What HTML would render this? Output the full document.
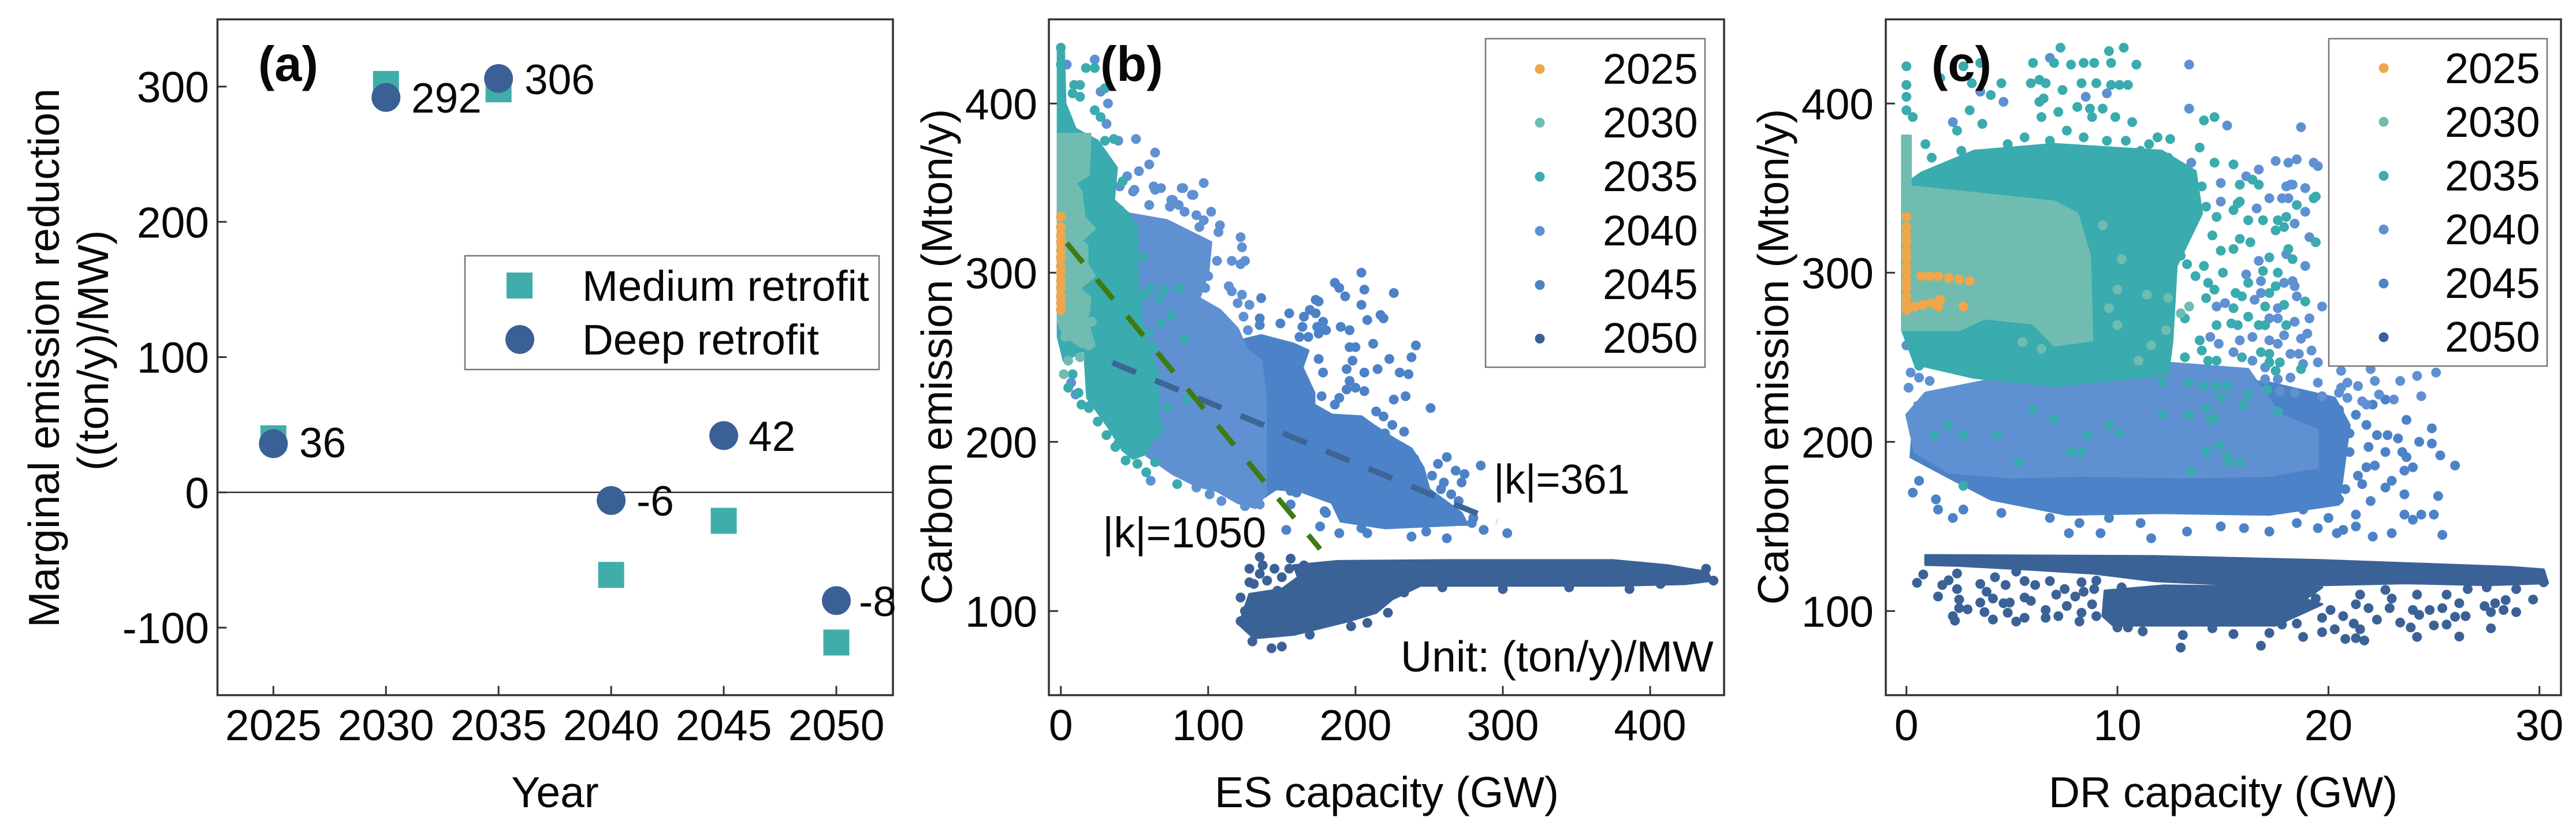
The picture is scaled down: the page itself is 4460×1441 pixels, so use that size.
<!DOCTYPE html>
<html lang="en">
<head>
<meta charset="utf-8">
<title>Marginal emission reduction and carbon emission scatter</title>
<style>
html,body{margin:0;padding:0;background:#fff;}
svg{display:block;}
text{font-family:"Liberation Sans",sans-serif;fill:#080808;}
</style>
</head>
<body>
<svg id="fig" xmlns="http://www.w3.org/2000/svg" width="4460" height="1441" viewBox="0 0 4460 1441">
  <rect x="0" y="0" width="4460" height="1441" fill="#fff"/>
  <g id="layer-a"></g>
  <g id="layer-b"></g>
  <g id="layer-c"></g>

  <g font-size="75">
    <text transform="translate(102,620) rotate(-90)" text-anchor="middle">Marginal emission reduction</text>
    <text transform="translate(187,607) rotate(-90)" text-anchor="middle">((ton/y)/MW)</text>
    <text x="961" y="1398" text-anchor="middle">Year</text>
    <text x="447" y="140" font-size="85" font-weight="bold">(a)</text>
    <text x="518" y="792" font-size="73">36</text>
    <text x="712" y="195" font-size="73">292</text>
    <text x="908" y="163" font-size="73">306</text>
    <text x="1102" y="893" font-size="73">-6</text>
    <text x="1296" y="781" font-size="73">42</text>
    <text x="1487" y="1067" font-size="73">-8</text>
    <rect x="805" y="443" width="717" height="197" fill="#fff" stroke="#777" stroke-width="2.5"/>
    <rect x="877" y="472" width="45" height="45" fill="#41ADAA"/>
    <circle cx="900" cy="588" r="25" fill="#3B6096"/>
    <text x="1008" y="521" font-size="74.5">Medium retrofit</text>
    <text x="1008" y="614" font-size="74.5">Deep retrofit</text>
  </g>

  <g font-size="75">
    <text transform="translate(1648,618) rotate(-90)" text-anchor="middle">Carbon emission (Mton/y)</text>
    <text x="2401" y="1398" text-anchor="middle">ES capacity (GW)</text>
    <text x="1905" y="140" font-size="85" font-weight="bold">(b)</text>
    <text x="1909" y="948" font-size="74">|k|=1050</text>
    <text x="2586" y="855" font-size="72">|k|=361</text>
    <text x="2425" y="1163">Unit: (ton/y)/MW</text>
    <rect x="2572" y="67" width="380" height="569" fill="#fff" stroke="#777" stroke-width="2.5"/>
    <g font-size="74">
      <circle cx="2666" cy="119.5" r="8.5" fill="#F0A64A"/>
      <text x="2775" y="145">2025</text>
      <circle cx="2666" cy="212.5" r="8.5" fill="#70BCB0"/>
      <text x="2775" y="238">2030</text>
      <circle cx="2666" cy="306" r="8.5" fill="#3AABAE"/>
      <text x="2775" y="331">2035</text>
      <circle cx="2666" cy="400" r="8.5" fill="#5F90D2"/>
      <text x="2775" y="425">2040</text>
      <circle cx="2666" cy="493.5" r="8.5" fill="#4C82C8"/>
      <text x="2775" y="518">2045</text>
      <circle cx="2666" cy="586.5" r="8.5" fill="#3B6296"/>
      <text x="2775" y="611">2050</text>
    </g>
  </g>

  <g font-size="75">
    <text transform="translate(3096,618) rotate(-90)" text-anchor="middle">Carbon emission (Mton/y)</text>
    <text x="3849" y="1398" text-anchor="middle">DR capacity (GW)</text>
    <text x="3344" y="140" font-size="85" font-weight="bold">(c)</text>
    <rect x="4032" y="67" width="378" height="567" fill="#fff" stroke="#777" stroke-width="2.5"/>
    <g font-size="74">
      <circle cx="4127" cy="118" r="8.5" fill="#F0A64A"/>
      <text x="4233" y="144">2025</text>
      <circle cx="4127" cy="211" r="8.5" fill="#70BCB0"/>
      <text x="4233" y="237">2030</text>
      <circle cx="4127" cy="304.5" r="8.5" fill="#3AABAE"/>
      <text x="4233" y="330">2035</text>
      <circle cx="4127" cy="397.5" r="8.5" fill="#5F90D2"/>
      <text x="4233" y="423">2040</text>
      <circle cx="4127" cy="491" r="8.5" fill="#4C82C8"/>
      <text x="4233" y="516">2045</text>
      <circle cx="4127" cy="584" r="8.5" fill="#3B6296"/>
      <text x="4233" y="609">2050</text>
    </g>
  </g>
</svg>

<script>
/* Panel (a) data */
const years = [2025, 2030, 2035, 2040, 2045, 2050];
const mediumRetrofit = [40, 302, 298, -61, -21, -111];
const deepRetrofit = [36, 292, 306, -6, 42, -80];
const aYTicks = [-100, 0, 100, 200, 300];

/* Shared scatter ticks */
const emissionTicks = [100, 200, 300, 400];
const esTicks = [0, 100, 200, 300, 400];
const drTicks = [0, 10, 20, 30];

/* Trend lines in panel (b): [capacity, emission] end points */
const trendSteep = [[4, 317.5], [176, 136.6]];
const trendShallow = [[35, 246.8], [296, 152.8]];

/* Panel (b) dense cores: outline of the unresolvable overlap, [GW, Mton] pairs */
const esCore2030 = [-2,382,20,382,19,358,10,353,14,348,16,333,23,326,14,319,18,316,18,305,23,298,13,291,20,285,18,271,23,257,14,256,2,263,-2,271];
const esCore2035 = [-2,433,2,433,3,400,10,385,25,378,38,362,36,343,46,335,52,326,52,297,56,266,66,241,66,220,69,206,60,199,58,193,49,190,42,195,32,209,18,226,16,254,2,248,-2,262];
const esCore2040 = [46,335,72,331,102,318,100,300,94,285,108,278,120,267,126,255,136,248,139,226,139,169,132,161,120,164,106,171,92,174,76,181,58,192,52,206];
const esCore2045 = [112,258,136,263,158,258,168,254,164,244,172,229,172,222,184,216,204,215,212,210,226,202,238,196,246,185,250,172,272,158,276,151,270,151,220,149,190,153,184,164,162,171,146,172,134,165,120,200,112,249];
const esCore2050 = [158,127,188,129.5,263,130,375,130,412,127,439,123,442,118,424,116,375,115,300,115,244,115,225,107,214,99,195,94,158,86,131,84,121,92,128,110,150,113,161,120];

/* Panel (b) individually resolved points, [GW, Mton] pairs */
const esPoints2025 = [0,278,0,282,0,286,0,291,0,295,0,300,0,304,0,309,0,313,0,318,0,322,0,327,0,333];
const esPoints2030 = [21,271,17,279,19,257,5,248,3,262,13,250,2,240];
const esPoints2035 = [0,433,0,423,13,411,9,411,17,421,23,421,23,396,8,406,13,404,30,409,27,392,19,377,30,378,36,379,40,337,42,354,56,309,61,291,70,290,80,291,57,287,67,285,75,275,68,270,60,264,84,261,63,256,72,221,86,225,67,207,58,182,52,187,64,188,79,175,45,330,8,240,5,232,12,229,14,222,19,220,25,212,31,204,37,197,44,189];
const esPoints2040 = [51,379,64,371,60,364,53,360,45,357,40,351,49,348,64,349,75,343,83,350,90,346,23,426,4,423,27,407,32,400,31,388,28,370,39,378,97,353,82,350,89,346,68,350,63,351,50,349,76,343,74,339,84,336,92,334,102,336,97,331,94,327,108,328,107,324,122,321,123,315,106,307,116,307,122,305,125,307,100,298,98,291,92,288,114,292,116,289,123,287,120,282,128,281,124,274,127,266,7,235,10,228,19,221,39,199,61,177,92,173,101,169,109,165,125,162,135,163,70,322,80,312,92,318,80,340,60,340,110,270,115,262,105,248,100,240,112,232];
const esPoints2045 = [136,285,135,273,135,269,149,270,155,276,165,274,164,268,169,278,173,276,173,284,175,283,178,271,174,268,180,266,175,264,162,262,168,262,186,294,189,291,193,286,204,300,206,290,204,281,226,288,217,275,219,273,208,272,190,268,196,266,196,256,200,256,212,258,241,257,238,250,223,249,198,248,194,243,215,243,206,241,230,241,236,240,178,241,175,249,196,236,200,232,206,230,194,231,177,227,189,226,186,222,234,227,226,225,251,220,214,218,219,215,225,210,233,206,228,198,262,191,285,186,256,187,268,183,274,181,260,176,272,176,265,169,147,175,156,171,160,170,156,163,179,159,303,146,287,148,279,152,262,143,238,144,248,147,208,146,204,149,189,146,176,150,180,158,153,148,220,205,240,190,252,180,258,172,270,165,280,155];
const esPoints2050 = [135,132,137,127,156,131,128,117,122,108,131,116,143,78,150,79,130,82,169,86,197,91,208,93,222,99,233,111,259,114,345,114,386,113,407,116,438,125,443,118,300,113,210,118,140,118,150,120,145,125,155,125,165,127,135,122,147,112,128,125,125,100,122,94];

/* Panel (c) dense cores */
const drCore2030 = [-0.2,381,0.2,381,0.2,351,7,342,8.1,335,8.7,310,8.8,260,7,257,6,270,3.7,273,2.5,266,-0.2,266];
const drCore2035 = [-0.2,351,0.7,359,3.2,372,7,376,12.1,372,13.7,360,14,335,12.8,304,12.6,260,12.4,240,7,233,3.2,238,0.4,246,-0.2,266];
const drCore2040 = [0,216,0.9,229,4.5,238,12.1,247,16.2,243,17.7,216,19.5,207,19.5,185,17.2,180,13.4,179,8.3,180,5,179,2,182,0.4,194];
const drCore2045 = [0.2,191,2,179,4,166,7.6,157,12.1,158,17.2,157,20.5,163,21,210,20.3,226,17.2,235,12.1,241,4.5,235,0.4,223];
const drCore2050Band = [0.9,133,11.8,132.4,19.7,130,28.6,126,30.2,124.5,30.4,116.5,27.6,115.4,23.7,116.5,19.7,115.4,15.8,115.4,11.8,117.7,8.9,122.2,5.9,124.5,2.5,126.8,0.9,127.3];
const drCore2050Lump = [9.4,112,12.2,115,19.7,114,18.9,107,19.7,104,17.5,91.5,14.2,91.5,11.8,91.5,9.8,91.5,9.3,97];

/* Panel (c) individually resolved points */
const drPoints2025 = [0,278,0,282,0,286,0,291,0,295,0,300,0,304,0,309,0,313,0,318,0,322,0,327,0,333,0.7,298,1.1,298,1.5,298,2,297,2.5,296,3,295,0.4,280,0.8,281,1.2,282,1.6,284,1.5,280,2.7,280];
const drPoints2030 = [9.3,328,10.2,308,10,290,9.6,279,10,269,11.4,287,12.4,285,13.4,280,11.6,257,11,248,12.3,266,13,276,5.5,259,6.4,255];
const drPoints2035 = [7.3,433,9.6,431,10.3,433,6,424,7,424,7.8,423,8.4,424,8.9,424,9.7,424,10.9,423,0,422,0,411,0,404,0,396,0.3,392,0.9,376,2.4,384,1.6,415,2.7,422,3.5,424,4.5,412,4,405,3.1,412,3,396,5.9,412,6.3,414,6.6,412,7.4,408,8.3,412,9,412,9.7,411,10.1,411,10.5,411,6.3,401,6.5,403,7.2,395,8.1,398,8.7,397,9.3,397,9.9,392,10.7,389,14.1,390,14.6,392,13.9,374,12.5,379,11.9,380,14.6,365,15.5,364,15.7,341,19.3,344,1.2,368,1.8,362,2.6,372,3.4,365,3.6,388,4.8,376,5.6,380,6.4,392,6.8,378,7.6,384,8.4,380,8.8,392,9.5,378,10.4,378,11.1,372,11.5,376,12.4,368,13,352,13.3,340,12.8,330,12.6,320,13,310,13.7,298,14.2,285,13.2,273,13.9,260,13.3,305,0.2,258,0.6,245,15.8,352,16.4,355,16.7,352,15.8,342,15.5,337,16.2,331,16.9,331,17.6,331,18,333,17.9,327,17.5,325,18.5,340,19.4,345,19.4,318,18.1,314,18.3,308,17.2,309,17.6,300,16.9,301,16.2,294,17.5,292,17.2,288,15.6,288,15.9,286,17,280,17.9,281,18.9,283,15.5,279,16.2,274,15.4,270,14.7,269,15.7,269,16.7,269,17,269,18,269,16.8,253,17.2,252,17.2,247,17.7,247,17.5,242,18.7,243,15.9,250,14.7,248,14.3,248,14.1,233,14.7,233,15.2,233,17.1,231,16.2,228,14.9,226,16,222,17.6,218,14.2,220,14.6,214,14.4,213,14.8,198,15.2,192,15.3,188,15.8,188,14,254,13.9,260,14.9,313,15,300,14.3,294,14.6,290,14.1,304,15.8,320,16.3,318,14.7,333,14.2,339,14,351,14.5,322,15.5,314,2.7,174,1.3,204,2.7,204,2,210,4.3,204,5.3,188,7.8,194,8.3,194,8.6,204,9.6,210,10.1,205,6,219,7,213,12.1,216,12.1,235,13.4,235,13.4,216,13.5,182,14.2,194,13.2,250];
const drPoints2040 = [13.4,423,13.4,397,15.2,387,18.7,386,6.8,427,2.2,389,3.6,388,4.6,401,8.5,404,9.5,406,3.5,407,4,370,17.5,366,18.1,365,18.5,367,19.3,365,19.5,363,16.7,361,18,351,18.3,352,18.9,350,13.5,365,14.9,353,16.1,357,18.2,352,18.9,350,17.2,344,17.8,344,18.1,344,18.9,336,18.4,329,19.1,321,18,311,18.9,304,16.6,338,14.9,342,16.7,307,16.1,299,16.8,295,17.9,294,18.3,295,18.4,292,16.8,288,16.5,284,18.5,286,14.7,280,15.1,282,19.7,280,17.6,279,19.1,273,17.2,273,17.6,273,18.4,271,17.9,263,19,264,18.7,261,19.2,254,14.4,262,14.8,258,16.4,262,15.8,260,17.2,260,17.6,258,18.2,252,18.6,252,18.8,246,19.5,247,16.4,248,15.5,253,17,244,18.2,238,17.6,237,17,237,19.5,235,20.6,242,20.9,235,22.2,236,23.4,236,24.2,239,25.1,241,22,243,21.4,233,20.6,232,20.5,229,22.4,228,23.1,225,24.4,227,21.6,224,20.9,226,21.8,222,19.7,227,18.4,229,17.7,230,0,257,0.2,241,2,247,0.9,260,3.2,244,0.1,232,0.6,238,1.1,236];
const drPoints2045 = [23.7,213,23.3,202,24.9,208,24.9,199,24.3,200,23.5,194,23.7,191,21.9,197,22.3,204,22.8,204,25.3,192,26,186,24,185,23.6,183,23,177,22.7,194,22.2,186,21.8,185,21.6,175,22.7,173,23.6,169,25.2,168,23.6,157,24.4,157,25,157,25.4,145,24,154,23,146,22.1,144,20.7,148,20.4,146,21.3,157,20.5,166,19.5,149,18.5,152,17.2,147,16,149,14.9,150,13.3,147,11.6,143,9.2,146,7.7,146,8.2,152,2.2,155,1.5,160,2.7,160,0.3,170,0.6,177,1.4,166,4.5,158,6.8,155,9.6,155,11.1,152,18.8,160,21.3,150,21.8,210,21.3,216,20.5,219,21,194,20.5,185,20.8,172,20,175,22.1,222,22.7,225,21,205,21.4,180,22,165,19,165,20,155];
const drPoints2050 = [0.8,121.6,0.5,116.7,1.7,115.4,2,118.2,2.4,122.2,2.4,113,1.5,108.6,2.5,106.8,2.5,101.7,2.9,101,2.2,97,2.3,94.3,3.5,116,3.8,111.4,4.2,120,4.7,115.4,5.2,123.3,5.6,117.7,6.1,115.4,4.1,107.4,4.6,104.6,3.5,105,3.7,99.4,4.1,95,4.9,105,4.8,99,5.2,93.8,5.6,96,5.6,108,5.9,106,6.6,100.6,6.6,96,7.2,97,7.1,109.7,6.8,117.7,8,108.6,8.4,111.4,8.8,104,8.2,93.8,8.3,99,9,97,10,90.3,10.5,90.3,11.2,88,13.1,85.8,13,78.4,16.8,79.5,15.5,86.4,17.2,87,14.5,89.8,18.8,84.7,19.7,87.5,20.3,89.2,20.8,83.5,21.3,84,21.7,82.6,21.5,89.2,23.9,90.3,24.2,84.7,25,91.5,26.2,84.9,27.7,89.8,25.6,92,26.5,97,26,96.6,25.4,101.7,24.8,100.6,24.3,97.7,24,100.6,26.2,104.6,27.4,102.9,27.9,104.6,28.4,106.5,28.3,100.6,27.7,99.4,28.9,99.4,29.7,106.8,25.6,109.7,24.2,109.7,23,107.4,22.9,101.7,22.3,94.9,23.4,93.2,21.9,101.7,21.2,92.6,20.7,97,21.5,109.7,21.3,104,20.1,100.6,19.4,107.4,19.7,96,18.5,92.6,17.8,92,22.7,112.5,26.6,113,27.5,114,28.9,113,30.2,117,7.5,113,8.3,117,9,118,7.6,103,8.9,113,10.2,114];

const SVGNS = 'http://www.w3.org/2000/svg';
const DOT_RADIUS = 8.5;
const colors = {c2025:'#F0A64A', c2030:'#70BCB0', c2035:'#3AABAE', c2040:'#5F90D2', c2045:'#4C82C8', c2050:'#3B6296', steep:'#3F7A12', shallow:'#3D6595', frame:'#333333'};

/* Axis functions */
function linear(d0, d1, r0, r1) { return function (v) { return r0 + (v - d0) * (r1 - r0) / (d1 - d0); }; }
const aX = linear(2025, 2050, 473.3, 1448);
const aY = linear(0, 300, 852.8, 150);
const bX = linear(0, 400, 1836.7, 2857);
const cX = linear(0, 30, 3300.7, 4396.7);
const emY = linear(100, 400, 1058.3, 179.3);

function make(parent, tag, attrs) {
  const el = document.createElementNS(SVGNS, tag);
  for (const k in attrs) el.setAttribute(k, attrs[k]);
  parent.appendChild(el);
  return el;
}

function drawAxes(parent, box, xTicks, yTicks, xFn, yFn) {
  for (const t of xTicks) {
    const tick = make(parent, 'line', {x1:xFn(t), x2:xFn(t), y1:box.b, y2:box.b-16, stroke:colors.frame, 'stroke-width':3});
    
    
    const lab = make(parent, 'text', {x:xFn(t), y:1282, 'text-anchor':'middle', 'font-size':75});
    lab.textContent = t;
    
    
  }
  for (const t of yTicks) {
    const tick = make(parent, 'line', {x1:box.l, x2:box.l+16, y1:yFn(t), y2:yFn(t), stroke:colors.frame, 'stroke-width':3});
    
    
    const lab = make(parent, 'text', {x:box.tx, y:yFn(t)+27, 'text-anchor':'end', 'font-size':75});
    lab.textContent = t;
    
    
  }
  const frame = make(parent, 'rect', {x:box.l, y:box.t, width:box.r-box.l, height:box.b-box.t, fill:'none', stroke:colors.frame, 'stroke-width':3.5});
  
  
}

function drawCore(parent, flat, color, xFn, yFn) {
  const pts = [];
  for (let i = 0; i < flat.length; i += 2) pts.push(xFn(flat[i]).toFixed(1) + ',' + yFn(flat[i+1]).toFixed(1));
  const poly = make(parent, 'polygon', {points:pts.join(' '), fill:color, stroke:color, 'stroke-width':4, 'stroke-linejoin':'round'});
  
  
}

function drawPoints(parent, flat, color, xFn, yFn) {
  for (let i = 0; i < flat.length; i += 2) {
    const dot = make(parent, 'circle', {cx:xFn(flat[i]).toFixed(1), cy:yFn(flat[i+1]).toFixed(1), r:DOT_RADIUS, fill:color});
    
    
  }
}

function drawTrend(parent, ends, color, name, dash, width) {
  const line = make(parent, 'line', {x1:bX(ends[0][0]), y1:emY(ends[0][1]), x2:bX(ends[1][0]), y2:emY(ends[1][1]), stroke:color, 'stroke-width':width, 'stroke-dasharray':dash});
  
  
}

/* Panel (a) */
const la = document.getElementById('layer-a');
const boxA = {l:376.5, r:1546, t:33.5, b:1204, tx:362};
drawAxes(la, boxA, years, aYTicks, aX, aY);
const zero = make(la, 'line', {x1:boxA.l, x2:boxA.r, y1:aY(0), y2:aY(0), stroke:colors.frame, 'stroke-width':2.5});


years.forEach(function (yr, i) {
  const sq = make(la, 'rect', {x:aX(yr)-22.5, y:aY(mediumRetrofit[i])-22.5, width:45, height:45, fill:'#41ADAA'});
  
  
});
years.forEach(function (yr, i) {
  const c = make(la, 'circle', {cx:aX(yr), cy:aY(deepRetrofit[i]), r:25, fill:'#3B6096'});
  
  
});

/* Panel (b) */
const lb = document.getElementById('layer-b');
const boxB = {l:1816, r:2985, t:33.5, b:1204, tx:1796};
drawAxes(lb, boxB, esTicks, emissionTicks, bX, emY);
drawCore(lb, esCore2050, colors.c2050, bX, emY);
drawPoints(lb, esPoints2050, colors.c2050, bX, emY);
drawCore(lb, esCore2045, colors.c2045, bX, emY);
drawPoints(lb, esPoints2045, colors.c2045, bX, emY);
drawCore(lb, esCore2040, colors.c2040, bX, emY);
drawPoints(lb, esPoints2040, colors.c2040, bX, emY);
drawCore(lb, esCore2035, colors.c2035, bX, emY);
drawPoints(lb, esPoints2035, colors.c2035, bX, emY);
drawCore(lb, esCore2030, colors.c2030, bX, emY);
drawPoints(lb, esPoints2030, colors.c2030, bX, emY);
drawPoints(lb, esPoints2025, colors.c2025, bX, emY);
drawTrend(lb, trendShallow, colors.shallow, 'trend-line-shallow', '44 36', 10);
drawTrend(lb, trendSteep, colors.steep, 'trend-line-steep', '44 38', 9);

/* Panel (c) */
const lc = document.getElementById('layer-c');
const boxC = {l:3265, r:4434, t:33.5, b:1204, tx:3244};
drawAxes(lc, boxC, drTicks, emissionTicks, cX, emY);
drawCore(lc, drCore2050Band, colors.c2050, cX, emY);
drawCore(lc, drCore2050Lump, colors.c2050, cX, emY);
drawPoints(lc, drPoints2050, colors.c2050, cX, emY);
drawCore(lc, drCore2045, colors.c2045, cX, emY);
drawPoints(lc, drPoints2045, colors.c2045, cX, emY);
drawCore(lc, drCore2040, colors.c2040, cX, emY);
drawPoints(lc, drPoints2040, colors.c2040, cX, emY);
drawCore(lc, drCore2035, colors.c2035, cX, emY);
drawPoints(lc, drPoints2035, colors.c2035, cX, emY);
drawCore(lc, drCore2030, colors.c2030, cX, emY);
drawPoints(lc, drPoints2030, colors.c2030, cX, emY);
drawPoints(lc, drPoints2025, colors.c2025, cX, emY);
</script>
</body>
</html>
